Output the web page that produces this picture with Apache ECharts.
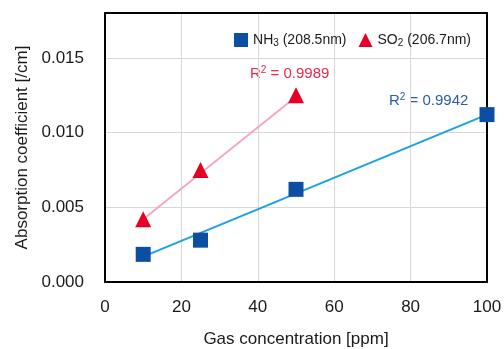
<!DOCTYPE html>
<html><head><meta charset="utf-8">
<script src="https://cdn.jsdelivr.net/npm/echarts@6/dist/echarts.min.js"></script>
<style>html,body{margin:0;padding:0;background:#fff}#c{width:504px;height:349px}</style>
</head><body><div id="c"></div>
<script>
const nh3X = [10, 25, 50, 100];
const nh3Y = [0.00185, 0.0028, 0.0062, 0.0112];
const so2X = [10, 25, 50];
const so2Y = [0.0042, 0.0075, 0.0125];
const nh3FitX = [10, 100];
const nh3FitY = [0.0017, 0.0112];
const so2FitX = [10, 50];
const so2FitY = [0.0042, 0.0124];
const xTicks = [0, 20, 40, 60, 80, 100];
const yTicks = [0.000, 0.005, 0.010, 0.015];
const r2Labels = ['0.9989', '0.9942'];

const F = 'Liberation Sans, Arial, sans-serif';
const TC = '#1a1a1a';
const pair = (xs, ys) => xs.map((x, i) => [x, ys[i]]);
const frameLine = {show: true, onZero: false, lineStyle: {color: '#000', width: 2}};
const chart = echarts.init(document.getElementById('c'));
chart.setOption({
  animation: false,
  grid: {left: 105, right: 17, top: 13, bottom: 67, containLabel: false, outerBoundsMode: 'none'},
  xAxis: [{
    type: 'value', min: 0, max: 100, interval: 20, position: 'bottom',
    name: 'Gas concentration [ppm]', nameLocation: 'middle', nameGap: 49,
    nameTextStyle: {fontFamily: F, fontSize: 17, color: TC},
    axisLine: frameLine, axisTick: {show: false},
    axisLabel: {fontFamily: F, fontSize: 17, color: TC, margin: 17,
      formatter: v => xTicks.includes(v) ? String(v) : ''},
    splitLine: {lineStyle: {color: '#d8d8d8', width: 1}}
  }, {
    type: 'value', min: 0, max: 100, position: 'top',
    axisLine: frameLine, axisTick: {show: false}, axisLabel: {show: false}, splitLine: {show: false}
  }],
  yAxis: [{
    type: 'value', min: 0, max: 0.018, interval: 0.005, position: 'left',
    name: 'Absorption coefficient [/cm]', nameLocation: 'middle', nameGap: 74,
    nameTextStyle: {fontFamily: F, fontSize: 17, color: TC},
    axisLine: frameLine, axisTick: {show: false},
    axisLabel: {fontFamily: F, fontSize: 17, color: TC, margin: 21,
      formatter: v => { const t = yTicks.find(k => Math.abs(k - v) < 1e-9); return t === undefined ? '' : t.toFixed(3); }},
    splitLine: {lineStyle: {color: '#d8d8d8', width: 1}}
  }, {
    type: 'value', min: 0, max: 0.018, position: 'right',
    axisLine: frameLine, axisTick: {show: false}, axisLabel: {show: false}, splitLine: {show: false}
  }],
  legend: {
    right: 28, top: 28, itemGap: 12, itemWidth: 14, itemHeight: 14,
    textStyle: {fontFamily: F, fontSize: 14, color: TC,
      rich: {s: {fontSize: 10, verticalAlign: 'bottom', padding: [7, 0, 0, 0], fontFamily: F, color: TC}}},
    formatter: n => n === 'NH3' ? 'NH{s|3} (208.5nm)' : 'SO{s|2} (206.7nm)',
    data: [{name: 'NH3', icon: 'rect'}, {name: 'SO2', icon: 'triangle'}]
  },
  series: [
    {name: 'NH3fit', type: 'line', data: pair(nh3FitX, nh3FitY), symbol: 'none',
      lineStyle: {color: '#1ba1e2', width: 2}, z: 2},
    {name: 'SO2fit', type: 'line', data: pair(so2FitX, so2FitY), symbol: 'none',
      lineStyle: {color: '#f4a7bf', width: 2}, z: 2},
    {name: 'NH3', type: 'scatter', data: pair(nh3X, nh3Y), symbol: 'rect', symbolSize: 15,
      itemStyle: {color: '#0b4ea2', opacity: 1}, z: 3},
    {name: 'SO2', type: 'scatter', data: pair(so2X, so2Y), symbol: 'triangle', symbolSize: 16,
      itemStyle: {color: '#e60026', opacity: 1}, z: 3}
  ],
  graphic: [
    {type: 'text', left: 250, top: 65, style: {text: 'R{s|2} = ' + r2Labels[0], fontFamily: F, fontSize: 15, fill: '#e8294a',
      rich: {s: {fontSize: 10, verticalAlign: 'top', padding: [0, 0, 8, 0], fill: '#e8294a', fontFamily: F}}}},
    {type: 'text', left: 389, top: 92, style: {text: 'R{s|2} = ' + r2Labels[1], fontFamily: F, fontSize: 15, fill: '#2a5ca8',
      rich: {s: {fontSize: 10, verticalAlign: 'top', padding: [0, 0, 8, 0], fill: '#2a5ca8', fontFamily: F}}}}
  ]
});
</script></body></html>
